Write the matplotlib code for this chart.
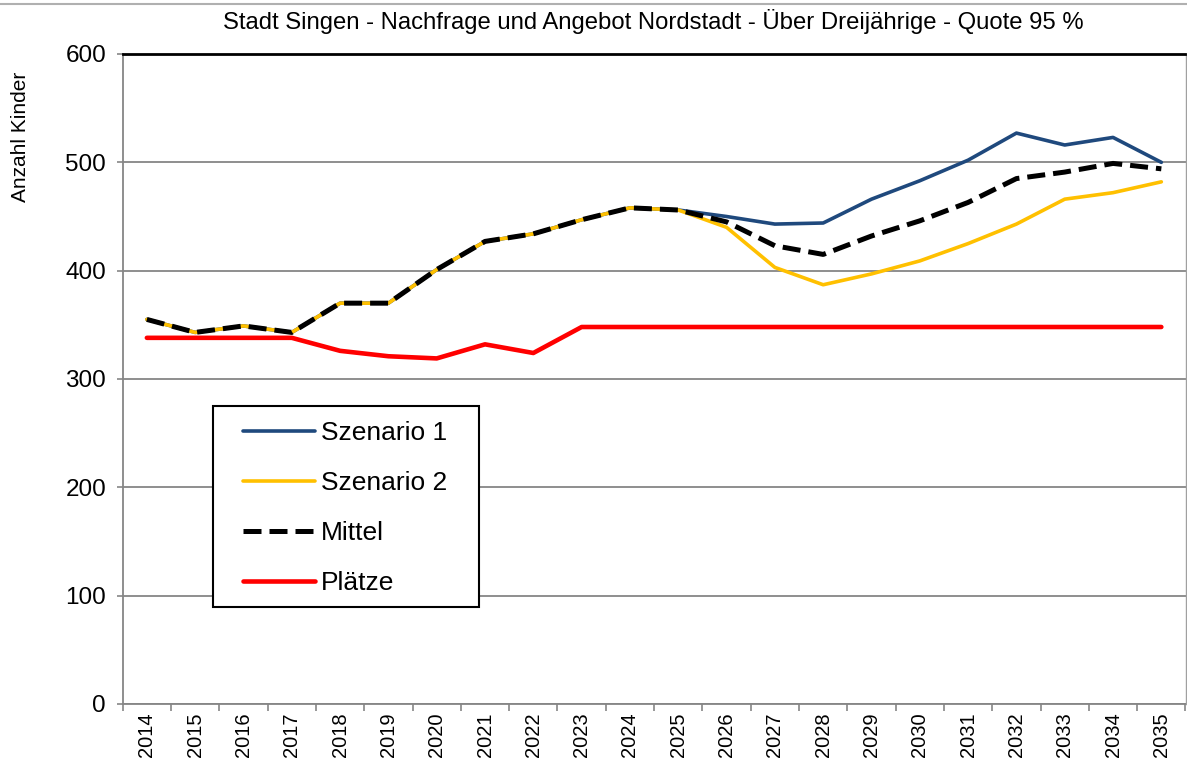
import matplotlib
matplotlib.use("Agg")
import matplotlib.pyplot as plt
from matplotlib.patches import Rectangle
from matplotlib.lines import Line2D
import numpy as np

years = [str(y) for y in range(2014, 2036)]
szenario1 = [355, 343, 349, 343, 370, 370, 401, 427, 434, 447, 458, 456,
             450, 443, 444, 466, 483, 502, 527, 516, 523, 500]
szenario2 = [355, 343, 349, 343, 370, 370, 401, 427, 434, 447, 458, 456,
             440, 403, 387, 397, 409, 425, 443, 466, 472, 482]
mittel = [355, 343, 349, 343, 370, 370, 401, 427, 434, 447, 458, 456,
          445, 423, 415, 432, 446, 463, 485, 491, 499, 494]
plaetze = [338, 338, 338, 338, 326, 321, 319, 332, 324, 348, 348, 348,
           348, 348, 348, 348, 348, 348, 348, 348, 348, 348]
yticks = [0, 100, 200, 300, 400, 500, 600]

plt.rcParams['font.family'] = ['Liberation Sans', 'DejaVu Sans']

fig = plt.figure(figsize=(11.87, 7.67), dpi=100)
ax = fig.add_axes([122.7/1187, 1-704/767, (1185.5-122.7)/1187, (704-54)/767])

x = np.arange(len(years))
ax.plot(x, szenario1, color='#1F497D', lw=2.6, label='Szenario 1', zorder=3, solid_capstyle='round')
ax.plot(x, szenario2, color='#FFC000', lw=2.6, label='Szenario 2', zorder=4, solid_capstyle='round')
ax.plot(x, mittel, color='black', lw=3.6, ls=(0, (3.6, 1.6)), label='Mittel', zorder=5)
ax.plot(x, plaetze, color='#FF0000', lw=3.3, label='Plätze', zorder=6, solid_capstyle='round')

ax.set_xlim(-0.5, len(years) - 0.5)
ax.set_ylim(0, 600)
ax.set_yticks(yticks)
ax.set_yticklabels([str(v) for v in yticks], fontsize=17.5)
ax.set_xticks(x)
ax.set_xticklabels(years, rotation=90, fontsize=14.5)
ax.tick_params(axis='x', which='major', length=0, pad=6)
ax.set_xticks(np.arange(-0.5, len(years), 1.0), minor=True)
ax.tick_params(axis='x', which='minor', length=5, color='#868686', width=1.2, direction='out')
ax.tick_params(axis='y', length=4, color='#868686', width=1.2, pad=8)

ax.grid(axis='y', color='#868686', lw=1.3, zorder=1)
ax.set_axisbelow(True)
ax.spines['right'].set_color('#a0a0a0')
ax.spines['right'].set_linewidth(1.0)
ax.spines['top'].set_color('black')
ax.spines['top'].set_linewidth(2)
ax.spines['left'].set_color('#868686')
ax.spines['left'].set_linewidth(1.3)
ax.spines['bottom'].set_color('#868686')
ax.spines['bottom'].set_linewidth(1.3)

fig.text(21/1187, 1-137/767, 'Anzahl Kinder', rotation=90, fontsize=15,
         ha='center', va='center')
fig.text(653/1187, 1-22/767,
         'Stadt Singen - Nachfrage und Angebot Nordstadt - Über Dreijährige - Quote 95 %',
         fontsize=17.2, ha='center', va='center')

# legend box
rect = Rectangle((0.0846, 0.1492), 0.2504, 0.3092, transform=ax.transAxes,
                 facecolor='white', edgecolor='black', lw=1.5, zorder=10)
ax.add_patch(rect)
leg = ax.legend(loc='upper left', bbox_to_anchor=((243-122.7)/1063.3, (704-421)/650),
                frameon=False, fontsize=19, handlelength=2.73, handletextpad=0.23,
                labelspacing=0.99, borderpad=0, borderaxespad=0)
leg.set_zorder(11)

fig.lines.append(Line2D([0, 1], [1-4/767, 1-4/767], transform=fig.transFigure,
                        color='#b0b0b0', lw=1.5))

fig.savefig('out.png', dpi=100)
